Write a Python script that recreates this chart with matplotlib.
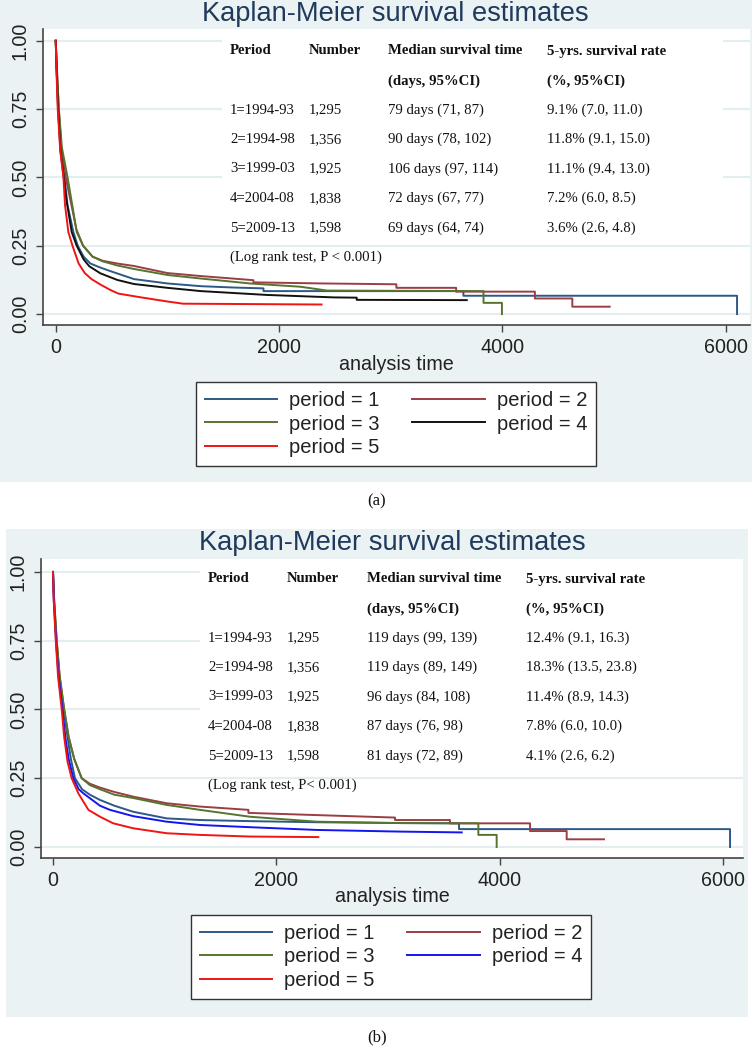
import matplotlib
matplotlib.use("Agg")
import matplotlib.pyplot as plt
from matplotlib.patches import Rectangle

W, H = 754, 1048
plt.rcParams["font.family"] = ["Liberation Sans", "DejaVu Sans"]

BG = "#eaf2f3"
GRID = "#e4eef0"
TITLE_COLOR = "#1f3a5c"

# ---- panel (a) curves: (time in days, survival) ----
a_t1 = [0, 8, 23, 45, 79, 105, 158, 197, 250, 310, 400, 490, 700, 1000, 1300, 1600, 1860, 1860, 3650, 3650, 6100, 6100]
a_s1 = [1.00, 0.90, 0.75, 0.60, 0.50, 0.40, 0.30, 0.25, 0.21, 0.185, 0.17, 0.157, 0.128, 0.112, 0.102, 0.097, 0.094, 0.084, 0.084, 0.067, 0.067, 0.0]
a_t2 = [0, 10, 27, 50, 90, 125, 185, 245, 330, 420, 550, 700, 1000, 1300, 1770, 1770, 2400, 3050, 3050, 3585, 3585, 4290, 4290, 4625, 4625, 4960]
a_s2 = [1.00, 0.90, 0.75, 0.61, 0.50, 0.43, 0.31, 0.25, 0.21, 0.195, 0.185, 0.176, 0.15, 0.139, 0.124, 0.116, 0.112, 0.109, 0.096, 0.096, 0.082, 0.082, 0.057, 0.057, 0.027, 0.027]
a_t3 = [0, 10, 28, 55, 106, 135, 188, 245, 330, 420, 550, 700, 1000, 1300, 1740, 2190, 2430, 3830, 3830, 3995, 3995]
a_s3 = [1.00, 0.90, 0.75, 0.61, 0.50, 0.43, 0.30, 0.25, 0.21, 0.193, 0.178, 0.165, 0.143, 0.13, 0.112, 0.10, 0.086, 0.084, 0.041, 0.041, 0.0]
a_t4 = [0, 7, 21, 42, 72, 95, 143, 188, 250, 300, 400, 550, 700, 1000, 1300, 1890, 2490, 2695, 2695, 3680]
a_s4 = [1.00, 0.90, 0.75, 0.60, 0.50, 0.42, 0.30, 0.25, 0.20, 0.175, 0.149, 0.125, 0.11, 0.096, 0.084, 0.07, 0.061, 0.060, 0.052, 0.051]
a_t5 = [0, 6, 18, 40, 69, 83, 113, 150, 205, 260, 320, 400, 490, 560, 750, 1000, 1140, 2380]
a_s5 = [1.00, 0.90, 0.75, 0.60, 0.50, 0.40, 0.30, 0.25, 0.185, 0.15, 0.128, 0.108, 0.088, 0.075, 0.062, 0.046, 0.038, 0.035]

# ---- panel (b) curves ----
b_t1 = [0, 8, 30, 55, 95, 130, 160, 197, 260, 331, 421, 550, 719, 1018, 1316, 1764, 2361, 3107, 3636, 3636, 6063, 6063]
b_s1 = [1.00, 0.90, 0.75, 0.62, 0.50, 0.40, 0.32, 0.25, 0.21, 0.19, 0.171, 0.15, 0.128, 0.104, 0.098, 0.094, 0.09, 0.087, 0.086, 0.065, 0.065, 0.0]
b_t2 = [0, 10, 33, 60, 100, 140, 190, 257, 330, 421, 550, 719, 1018, 1316, 1750, 1750, 2361, 3063, 3063, 3555, 3555, 4272, 4272, 4600, 4600, 4934]
b_s2 = [1.00, 0.90, 0.75, 0.62, 0.50, 0.40, 0.32, 0.25, 0.23, 0.216, 0.20, 0.183, 0.159, 0.147, 0.135, 0.124, 0.116, 0.107, 0.098, 0.098, 0.086, 0.086, 0.058, 0.058, 0.028, 0.028]
b_t3 = [0, 10, 33, 60, 100, 140, 190, 257, 330, 421, 550, 719, 1018, 1316, 1764, 2361, 3107, 3809, 3809, 3973, 3973]
b_s3 = [1.00, 0.90, 0.75, 0.62, 0.50, 0.40, 0.32, 0.25, 0.225, 0.21, 0.19, 0.178, 0.153, 0.135, 0.11, 0.092, 0.087, 0.086, 0.044, 0.044, 0.0]
b_t4 = [0, 7, 27, 50, 85, 110, 140, 182, 230, 272, 421, 510, 719, 1018, 1316, 1764, 2361, 3107, 3660]
b_s4 = [1.00, 0.90, 0.75, 0.62, 0.50, 0.40, 0.32, 0.25, 0.21, 0.195, 0.15, 0.135, 0.112, 0.092, 0.08, 0.072, 0.062, 0.056, 0.053]
b_t5 = [0, 6, 25, 45, 78, 100, 130, 167, 227, 317, 421, 540, 719, 1018, 1316, 1764, 2376]
b_s5 = [1.00, 0.90, 0.75, 0.62, 0.50, 0.40, 0.31, 0.25, 0.195, 0.135, 0.11, 0.086, 0.068, 0.05, 0.044, 0.038, 0.036]

legend_labels = ["period = 1", "period = 2", "period = 3", "period = 4", "period = 5"]
colors_a = ["#2c5985", "#9c3d44", "#55752f", "#111111", "#f01414"]
colors_b = ["#2c5985", "#9c3d44", "#55752f", "#1414f0", "#f01414"]

x_ticks = [0, 2000, 4000, 6000]
y_ticks = [0, 0.25, 0.5, 0.75, 1.0]
y_ticklabels = ["0.00", "0.25", "0.50", "0.75", "1.00"]

# ---- overlaid table ----
head1 = ["Period", "Number", "Median survival time", "5-yrs. survival rate"]
head2 = ["(days, 95%CI)", "(%, 95%CI)"]
period_names = ["1=1994-93", "2=1994-98", "3=1999-03", "4=2004-08", "5=2009-13"]
numbers = ["1,295", "1,356", "1,925", "1,838", "1,598"]
median_a = ["79 days (71, 87)", "90 days (78, 102)", "106 days (97, 114)", "72 days (67, 77)", "69 days (64, 74)"]
rate_a = ["9.1% (7.0, 11.0)", "11.8% (9.1, 15.0)", "11.1% (9.4, 13.0)", "7.2% (6.0, 8.5)", "3.6% (2.6, 4.8)"]
median_b = ["119 days (99, 139)", "119 days (89, 149)", "96 days (84, 108)", "87 days (76, 98)", "81 days (72, 89)"]
rate_b = ["12.4% (9.1, 16.3)", "18.3% (13.5, 23.8)", "11.4% (8.9, 14.3)", "7.8% (6.0, 10.0)", "4.1% (2.6, 6.2)"]
logrank_a = "(Log rank test, P < 0.001)"
logrank_b = "(Log rank test, P< 0.001)"


def fx(x):
    return x / W


def fy(y):
    return 1 - y / H


def draw_panel(fig, curves, colors, medians, rates, logrank, caption, lay):
    # light Stata-style background behind the whole graph
    x0, y0, x1, y1 = lay["bg"]
    fig.patches.append(Rectangle((fx(x0), fy(y1)), (x1 - x0) / W, (y1 - y0) / H,
                                 transform=fig.transFigure, facecolor=BG,
                                 edgecolor="none", zorder=-1))
    l, t, r, b = lay["ax"]
    ax = fig.add_axes([fx(l), fy(b), (r - l) / W, (b - t) / H])
    ax.set_facecolor("white")

    lines = []
    for (tt, ss), c, lab in zip(curves, colors, legend_labels):
        ln, = ax.plot(tt, ss, color=c, lw=1.4, label=lab, zorder=3)
        lines.append(ln)

    ax.set_xlim(lay["xlim"])
    ax.set_ylim(lay["ylim"])
    ax.set_xticks(x_ticks)
    ax.set_yticks(y_ticks)
    ax.set_yticklabels(y_ticklabels, rotation=90, va="center")
    ax.tick_params(labelsize=14.2, labelcolor="#222222", color="#444444",
                   length=5, width=1.0, pad=4.5, direction="out")
    for s in ["top", "right"]:
        ax.spines[s].set_visible(False)
    for s in ["left", "bottom"]:
        ax.spines[s].set_color("#444444")
        ax.spines[s].set_linewidth(1.2)
    ax.set_axisbelow(True)
    ax.yaxis.grid(True, color=GRID, lw=1.6)

    # white box of the pasted table hides the gridlines
    bx0, by0, bx1, by1 = lay["box"]
    ax.add_artist(Rectangle((fx(bx0), fy(by1)), (bx1 - bx0) / W, (by1 - by0) / H,
                            transform=fig.transFigure, facecolor="white",
                            edgecolor="none", zorder=1))

    cx, cy = lay["title"]
    fig.text(fx(cx), fy(cy), "Kaplan-Meier survival estimates", ha="center",
             va="center", fontsize=19.6, color=TITLE_COLOR)
    cx, cy = lay["xlabel"]
    fig.text(fx(cx), fy(cy), "analysis time", ha="center", va="center",
             fontsize=14.2, color="#222222")

    serif = ["Liberation Serif", "DejaVu Serif"]
    cols = lay["cols"]
    for x, s in zip(cols, head1):
        fig.text(fx(x), fy(lay["head_y"]), s, family=serif, fontsize=10.6,
                 fontweight="bold", va="center", color="#111111")
    for x, s in zip(cols[2:], head2):
        fig.text(fx(x), fy(lay["sub_y"]), s, family=serif, fontsize=10.6,
                 fontweight="bold", va="center", color="#111111")
    for i in range(len(period_names)):
        y = fy(lay["row_y"] + i * 29.5)
        for x, s in zip(cols, [period_names[i], numbers[i], medians[i], rates[i]]):
            fig.text(fx(x), y, s, family=serif, fontsize=10.6, va="center",
                     color="#111111")
    fig.text(fx(cols[0]), fy(lay["log_y"]), logrank, family=serif, fontsize=10.6,
             va="center", color="#111111")

    # legend filled row by row: 1 2 / 3 4 / 5
    order = [0, 2, 4, 1, 3]
    cx, cy = lay["legend"]
    leg = ax.legend([lines[i] for i in order], [legend_labels[i] for i in order],
                    ncol=2, loc="center", bbox_to_anchor=(fx(cx), fy(cy)),
                    bbox_transform=fig.transFigure, frameon=True, fancybox=False,
                    framealpha=1, edgecolor="#333333", fontsize=14.5,
                    handlelength=3.6, handletextpad=0.6, columnspacing=1.6,
                    labelspacing=0.22, borderpad=0.45, borderaxespad=0)
    leg.get_frame().set_linewidth(1.0)
    for txt in leg.get_texts():
        txt.set_color("#222222")

    cx, cy = lay["caption"]
    fig.text(fx(cx), fy(cy), caption, family=serif, fontsize=12,
             ha="center", va="center", color="#111111")
    return ax


fig = plt.figure(figsize=(W / 100, H / 100), dpi=100)

layout_a = {
    "bg": (0, 0, 752, 482),
    "ax": (43, 29, 750, 325),
    "xlim": (-114, 6216), "ylim": (-0.040, 1.043),
    "box": (222, 29, 723, 240),
    "title": (395, 14), "xlabel": (396, 364),
    "cols": [230, 309, 388, 547],
    "head_y": 51, "sub_y": 81, "row_y": 110, "log_y": 257,
    "legend": (396, 424), "caption": (377, 501),
}
layout_b = {
    "bg": (6, 529, 748, 1017),
    "ax": (41, 559, 743, 858),
    "xlim": (-107.5, 6179), "ylim": (-0.040, 1.047),
    "box": (200, 559, 743, 773),
    "title": (392, 543), "xlabel": (392, 897),
    "cols": [208, 287, 367, 526],
    "head_y": 579, "sub_y": 609, "row_y": 638, "log_y": 785,
    "legend": (391, 957), "caption": (377, 1037),
}

curves_a = [(a_t1, a_s1), (a_t2, a_s2), (a_t3, a_s3), (a_t4, a_s4), (a_t5, a_s5)]
curves_b = [(b_t1, b_s1), (b_t2, b_s2), (b_t3, b_s3), (b_t4, b_s4), (b_t5, b_s5)]

draw_panel(fig, curves_a, colors_a, median_a, rate_a, logrank_a, "(a)", layout_a)
draw_panel(fig, curves_b, colors_b, median_b, rate_b, logrank_b, "(b)", layout_b)

fig.savefig("out.png", dpi=100)
